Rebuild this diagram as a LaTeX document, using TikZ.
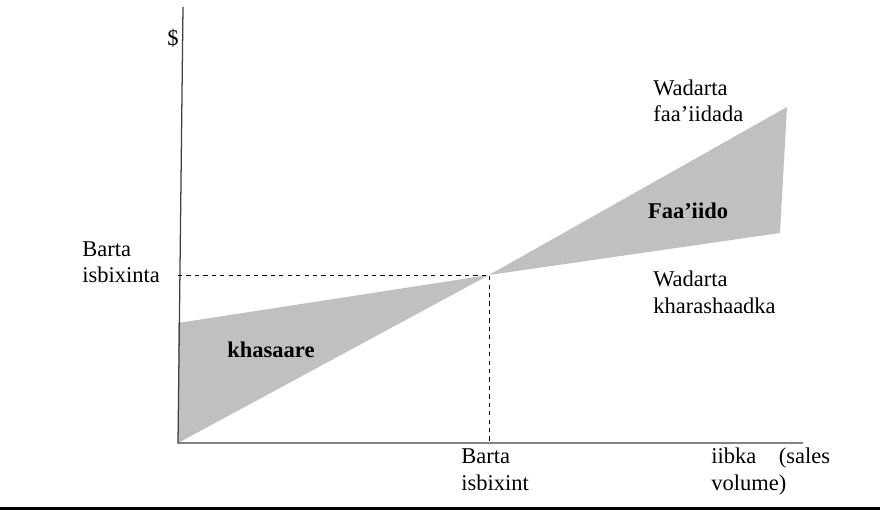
\documentclass[tikz,border=0pt]{standalone}
\usepackage{fontspec}
\setmainfont{Liberation Serif}
\usepackage{tikz}
\usetikzlibrary{positioning, calc}
\definecolor{regiongray}{HTML}{C0C0C0}
\definecolor{axisgray}{HTML}{404040}

\tikzset{
  lbl/.style={inner sep=0pt, align=left, anchor=base west, font=\fontsize{16}{18.5}\selectfont},
  regionlbl/.style={inner sep=0pt, font=\fontsize{16}{18.5}\selectfont\bfseries},
  axisline/.style={axisgray, line width=0.9pt},
  guide/.style={black, dashed, line width=0.6pt}
}

\begin{document}
\begin{tikzpicture}[x=0.025cm, y=-0.025cm]
  \useasboundingbox (0,0) rectangle (880,511);

  % key points of the chart
  \coordinate (origin) at (178,443);
  \coordinate (ytop) at (183,7);
  \coordinate (xend) at (803,443);
  \coordinate (fixed) at (178,323);
  \coordinate (breakeven) at (489,275);
  \coordinate (revend) at (787,107);
  \coordinate (costend) at (780,233);

  % loss and profit wedges
  \fill[regiongray] (fixed) -- (breakeven) -- (origin) -- cycle;
  \fill[regiongray] (breakeven) -- (revend) -- (costend) -- cycle;

  % axes
  \draw[axisline] (ytop) -- (origin) -- (xend);

  % break-even guides
  \draw[guide] (breakeven -| origin) -- (breakeven) -- (breakeven |- origin);

  % labels (base = last line)
  \node[lbl] (dollar) at (167,46) {\$};
  \node[lbl] (beylbl) at (82,283) {Barta\\isbixinta};
  \node[lbl] (revlbl) at (653,122) {Wadarta\\faa’iidada};
  \node[lbl] (costlbl) at (653,313) {Wadarta\\kharashaadka};
  \node[lbl] (bexlbl) at (461,490) {Barta\\isbixint};
  \node[lbl] (xlbl) at (711,490) {iibka\quad(sales\\volume)};
  \node[regionlbl] (loss) at (271,350) {khasaare};
  \node[regionlbl] (profit) at (688,211) {Faa’iido};

  % rule under the figure
  \fill[black] (0,507) rectangle (880,510);
\end{tikzpicture}
\end{document}
